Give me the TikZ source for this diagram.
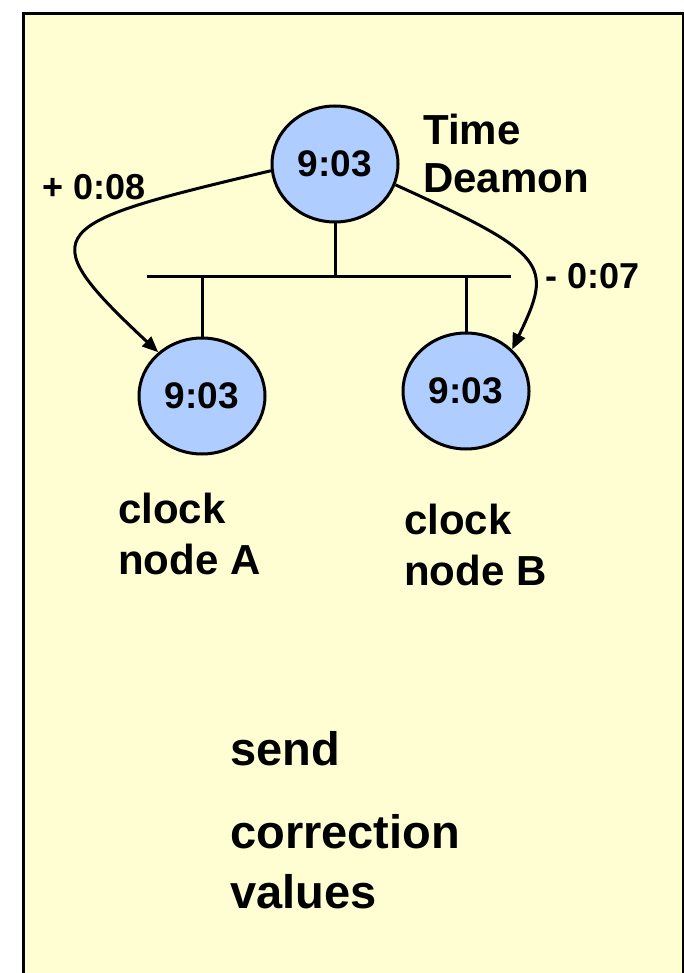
\documentclass[tikz,border=0pt]{standalone}
\usepackage{fontspec}
\setmainfont{Liberation Sans}
\usepackage{xcolor}
\usepackage{tikz}
\usetikzlibrary{arrows.meta,shapes.geometric}
\definecolor{clockpaper}{RGB}{255,253,210}
\definecolor{clockblue}{RGB}{176,205,255}
\tikzset{
  clockpicture/.style={x=1pt, y=-1pt},
  clockframe/.style={draw, fill=clockpaper, line width=3pt},
  clockdisc/.style={ellipse, draw, line width=3pt, fill=clockblue, minimum width=126pt, minimum height=116pt, inner sep=0pt, font=\bfseries\fontsize{37}{44}\selectfont},
  clockshift/.style={inner sep=0pt, anchor=base west, font=\bfseries\fontsize{36}{43}\selectfont},
  clocklabel/.style={inner sep=0pt, anchor=base west, align=left, font=\bfseries\fontsize{42}{51}\selectfont},
  clockbig/.style={clocklabel, font=\bfseries\fontsize{47}{60}\selectfont},
  clockwire/.style={line width=3pt},
  clockarrow/.style={-{Triangle[length=16pt,width=13pt]}, line width=3pt}
}

\begin{document}
\begin{tikzpicture}[clockpicture]
\useasboundingbox (0,0) rectangle (684,973);
\draw[clockframe] (23,14) rectangle (683,1000);
\node[clockdisc] (daemon) at (335,164) {9:03};
\node[clockdisc] (nodeA) at (202,396) {9:03};
\node[clockdisc] (nodeB) at (466,391) {9:03};
\coordinate (busW) at (147,277);
\coordinate (busE) at (511,277);
\draw[clockwire] (busW) -- (busE);
\draw[clockwire] (daemon.south) -- (daemon.south |- busW);
\draw[clockwire] (nodeA.north) -- ++(0,-58);
\draw[clockwire] (nodeB.north) -- ++(0,-53);
\draw[clockarrow] (daemon.186) .. controls +(-223,53) and +(-131,-122) .. (nodeA.135);
\draw[clockarrow] (daemon.-19) .. controls +(154,70) and +(41,-85) .. (nodeB.42);
\node[clocklabel, font=\bfseries\fontsize{42}{48}\selectfont] (daemonname) at (423,193) {Time\\Deamon};
\node[clockshift] (shiftA) at (42,200) {+ 0:08};
\node[clockshift] (shiftB) at (545,288) {- 0:07};
\node[clocklabel] (nameA) at (118,574) {clock\\node A};
\node[clocklabel] (nameB) at (404,585) {clock\\node B};
\node[clockbig] (send) at (230,765) {send};
\node[clockbig] (values) at (230,908) {correction\\values};
\end{tikzpicture}
\end{document}
